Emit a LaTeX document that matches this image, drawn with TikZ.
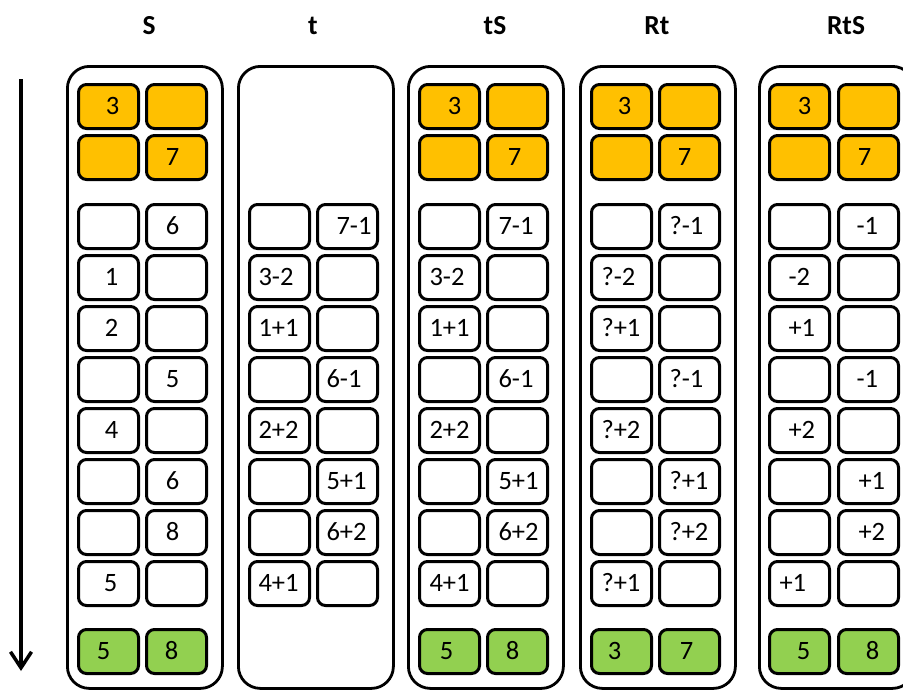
\documentclass[tikz,border=0pt]{standalone}
\usepackage{fontspec}
\setmainfont{Carlito}
\usetikzlibrary{arrows.meta}
\definecolor{orng}{HTML}{FFC000}
\definecolor{grn}{HTML}{92D050}
\tikzset{
  outerbox/.style={draw=black, line width=2.8pt, rounded corners=22pt, minimum width=155pt, minimum height=622pt, inner sep=0pt},
  cellbox/.style={draw=black, line width=3pt, rounded corners=8pt, minimum height=44pt, inner xsep=0pt, inner ysep=0pt,
     text height=16.5pt, text depth=0pt, font=\fontsize{26.5}{30}\selectfont},
  wbox/.style={cellbox, fill=white},
  obox/.style={cellbox, fill=orng},
  gbox/.style={cellbox, fill=grn},
  title/.style={font=\fontsize{27.5}{30}\selectfont\bfseries, text height=17.5pt, text depth=0pt, inner sep=0pt},
}
\newcommand\cell[5]{\node[#4,anchor=north west] (#1) at (#2,#3) {\makebox[60pt][l]{#5}};}
\newcommand\cl[2]{\hspace*{#1pt}#2}
\newcommand\cc[2]{\hspace*{#1pt}\makebox[0pt]{#2}}
\begin{document}
\begin{tikzpicture}[x=1pt,y=-1pt]
\useasboundingbox (0,0) rectangle (903,689);
\clip (0,0) rectangle (903,689);
\fill[white] (0,0) rectangle (903,689);

% titles
\node[title] (tS1) at (149,26) {S};
\node[title] (tT) at (313,26) {t};
\node[title] (tTS) at (495,26) {tS};
\node[title] (tRT) at (657,26) {Rt};
\node[title] (tRTS) at (846,26) {RtS};

% time arrow
\coordinate (atop) at (21,79);
\coordinate (abot) at (21,671);
\draw[line width=3.5pt, -{Straight Barb[length=16pt,width=21pt,line width=3.5pt]}] (atop) -- (abot);

% outer columns
\node[outerbox, anchor=north west] (colS) at (66,65) {};
\node[outerbox, anchor=north west] (colT) at (237,65) {};
\node[outerbox, anchor=north west] (colTS) at (407,65) {};
\node[outerbox, anchor=north west] (colRT) at (579,65) {};
\node[outerbox, anchor=north west] (colRTS) at (758,65) {};

% ---------- S ----------
\cell{S-o1}{77}{83}{obox}{\cc{34}{3}}
\cell{S-o2}{145}{83}{obox}{}
\cell{S-o3}{77}{134}{obox}{}
\cell{S-o4}{145}{134}{obox}{\cc{26}{7}}
\cell{S-0l}{77}{203}{wbox}{}
\cell{S-0r}{145}{203}{wbox}{\cc{26}{6}}
\cell{S-1l}{77}{254}{wbox}{\cc{33}{1}}
\cell{S-1r}{145}{254}{wbox}{}
\cell{S-2l}{77}{305}{wbox}{\cc{33}{2}}
\cell{S-2r}{145}{305}{wbox}{}
\cell{S-3l}{77}{356}{wbox}{}
\cell{S-3r}{145}{356}{wbox}{\cc{26}{5}}
\cell{S-4l}{77}{407}{wbox}{\cc{33}{4}}
\cell{S-4r}{145}{407}{wbox}{}
\cell{S-5l}{77}{458}{wbox}{}
\cell{S-5r}{145}{458}{wbox}{\cc{26}{6}}
\cell{S-6l}{77}{509}{wbox}{}
\cell{S-6r}{145}{509}{wbox}{\cc{26}{8}}
\cell{S-7l}{77}{560}{wbox}{\cc{32}{5}}
\cell{S-7r}{145}{560}{wbox}{}
\cell{S-g1}{77}{628}{gbox}{\cc{25}{5}}
\cell{S-g2}{145}{628}{gbox}{\cc{25}{8}}

% ---------- t ----------
\cell{T-0l}{248}{203}{wbox}{}
\cell{T-0r}{316}{203}{wbox}{\cl{19}{7-1}}
\cell{T-1l}{248}{254}{wbox}{\cl{9}{3-2}}
\cell{T-1r}{316}{254}{wbox}{}
\cell{T-2l}{248}{305}{wbox}{\cl{9}{1+1}}
\cell{T-2r}{316}{305}{wbox}{}
\cell{T-3l}{248}{356}{wbox}{}
\cell{T-3r}{316}{356}{wbox}{\cl{9}{6-1}}
\cell{T-4l}{248}{407}{wbox}{\cl{9}{2+2}}
\cell{T-4r}{316}{407}{wbox}{}
\cell{T-5l}{248}{458}{wbox}{}
\cell{T-5r}{316}{458}{wbox}{\cl{9}{5+1}}
\cell{T-6l}{248}{509}{wbox}{}
\cell{T-6r}{316}{509}{wbox}{\cl{9}{6+2}}
\cell{T-7l}{248}{560}{wbox}{\cl{9}{4+1}}
\cell{T-7r}{316}{560}{wbox}{}

% ---------- tS ----------
\cell{TS-o1}{418}{83}{obox}{\cc{35}{3}}
\cell{TS-o2}{486}{83}{obox}{}
\cell{TS-o3}{418}{134}{obox}{}
\cell{TS-o4}{486}{134}{obox}{\cc{27}{7}}
\cell{TS-0l}{418}{203}{wbox}{}
\cell{TS-0r}{486}{203}{wbox}{\cl{11}{7-1}}
\cell{TS-1l}{418}{254}{wbox}{\cl{10}{3-2}}
\cell{TS-1r}{486}{254}{wbox}{}
\cell{TS-2l}{418}{305}{wbox}{\cl{10}{1+1}}
\cell{TS-2r}{486}{305}{wbox}{}
\cell{TS-3l}{418}{356}{wbox}{}
\cell{TS-3r}{486}{356}{wbox}{\cl{11}{6-1}}
\cell{TS-4l}{418}{407}{wbox}{\cl{10}{2+2}}
\cell{TS-4r}{486}{407}{wbox}{}
\cell{TS-5l}{418}{458}{wbox}{}
\cell{TS-5r}{486}{458}{wbox}{\cl{11}{5+1}}
\cell{TS-6l}{418}{509}{wbox}{}
\cell{TS-6r}{486}{509}{wbox}{\cl{11}{6+2}}
\cell{TS-7l}{418}{560}{wbox}{\cl{10}{4+1}}
\cell{TS-7r}{486}{560}{wbox}{}
\cell{TS-g1}{418}{628}{gbox}{\cc{27}{5}}
\cell{TS-g2}{486}{628}{gbox}{\cc{25}{8}}

% ---------- Rt ----------
\cell{RT-o1}{590}{83}{obox}{\cc{33}{3}}
\cell{RT-o2}{658}{83}{obox}{}
\cell{RT-o3}{590}{134}{obox}{}
\cell{RT-o4}{658}{134}{obox}{\cc{25}{7}}
\cell{RT-0l}{590}{203}{wbox}{}
\cell{RT-0r}{658}{203}{wbox}{\cl{10}{?-1}}
\cell{RT-1l}{590}{254}{wbox}{\cl{10}{?-2}}
\cell{RT-1r}{658}{254}{wbox}{}
\cell{RT-2l}{590}{305}{wbox}{\cl{10}{?+1}}
\cell{RT-2r}{658}{305}{wbox}{}
\cell{RT-3l}{590}{356}{wbox}{}
\cell{RT-3r}{658}{356}{wbox}{\cl{10}{?-1}}
\cell{RT-4l}{590}{407}{wbox}{\cl{10}{?+2}}
\cell{RT-4r}{658}{407}{wbox}{}
\cell{RT-5l}{590}{458}{wbox}{}
\cell{RT-5r}{658}{458}{wbox}{\cl{10}{?+1}}
\cell{RT-6l}{590}{509}{wbox}{}
\cell{RT-6r}{658}{509}{wbox}{\cl{10}{?+2}}
\cell{RT-7l}{590}{560}{wbox}{\cl{10}{?+1}}
\cell{RT-7r}{658}{560}{wbox}{}
\cell{RT-g1}{590}{628}{gbox}{\cc{23}{3}}
\cell{RT-g2}{658}{628}{gbox}{\cc{27}{7}}

% ---------- RtS ----------
\cell{RTS-o1}{768}{83}{obox}{\cc{35}{3}}
\cell{RTS-o2}{837}{83}{obox}{}
\cell{RTS-o3}{768}{134}{obox}{}
\cell{RTS-o4}{837}{134}{obox}{\cc{26}{7}}
\cell{RTS-0l}{768}{203}{wbox}{}
\cell{RTS-0r}{837}{203}{wbox}{\cl{18}{-1}}
\cell{RTS-1l}{768}{254}{wbox}{\cl{19}{-2}}
\cell{RTS-1r}{837}{254}{wbox}{}
\cell{RTS-2l}{768}{305}{wbox}{\cl{19}{+1}}
\cell{RTS-2r}{837}{305}{wbox}{}
\cell{RTS-3l}{768}{356}{wbox}{}
\cell{RTS-3r}{837}{356}{wbox}{\cl{18}{-1}}
\cell{RTS-4l}{768}{407}{wbox}{\cl{19}{+2}}
\cell{RTS-4r}{837}{407}{wbox}{}
\cell{RTS-5l}{768}{458}{wbox}{}
\cell{RTS-5r}{837}{458}{wbox}{\cl{20}{+1}}
\cell{RTS-6l}{768}{509}{wbox}{}
\cell{RTS-6r}{837}{509}{wbox}{\cl{20}{+2}}
\cell{RTS-7l}{768}{560}{wbox}{\cl{10}{+1}}
\cell{RTS-7r}{837}{560}{wbox}{}
\cell{RTS-g1}{768}{628}{gbox}{\cc{34}{5}}
\cell{RTS-g2}{837}{628}{gbox}{\cc{34}{8}}
\end{tikzpicture}
\end{document}
